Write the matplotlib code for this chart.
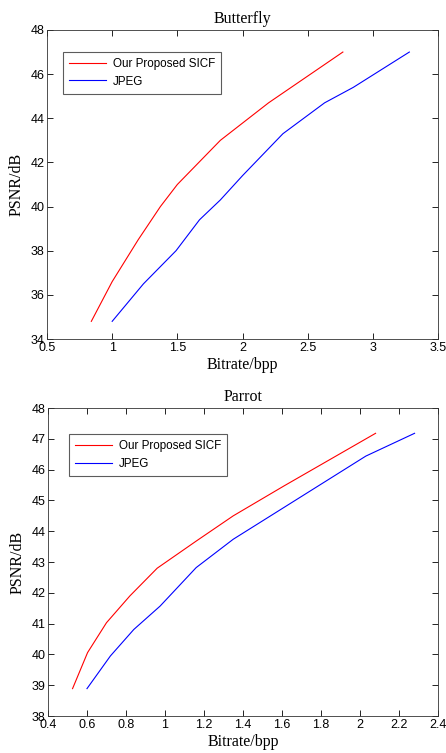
import matplotlib
matplotlib.use("Agg")
import matplotlib.pyplot as plt

# Butterfly data
bf_ours_x = [0.84, 1.0, 1.2, 1.37, 1.5, 1.83, 2.2, 2.77]
bf_ours_y = [34.8, 36.6, 38.5, 40.0, 41.0, 43.0, 44.7, 47.0]
bf_jpeg_x = [1.0, 1.24, 1.49, 1.67, 1.83, 2.0, 2.31, 2.63, 2.85, 3.28]
bf_jpeg_y = [34.8, 36.5, 38.0, 39.4, 40.3, 41.4, 43.3, 44.7, 45.4, 47.0]

# Parrot data
pa_ours_x = [0.526, 0.603, 0.70, 0.82, 0.96, 1.16, 1.35, 1.61, 2.08]
pa_ours_y = [38.89, 40.06, 41.03, 41.9, 42.8, 43.68, 44.5, 45.47, 47.18]
pa_jpeg_x = [0.60, 0.72, 0.84, 0.975, 1.16, 1.35, 1.675, 2.03, 2.28]
pa_jpeg_y = [38.89, 39.95, 40.81, 41.57, 42.82, 43.74, 45.03, 46.44, 47.18]

labels = ['Our Proposed SICF', 'JPEG']

serif = 'Liberation Serif'
sans = 'Liberation Sans'

fig = plt.figure(figsize=(4.46, 7.53), dpi=100)
ax1 = fig.add_axes([0.1054, 0.5498, 0.8767, 0.4104])
ax2 = fig.add_axes([0.1076, 0.0491, 0.8744, 0.409])


def style(ax, title, xlim, ylim, xticks, yticks):
    ax.set_xlim(*xlim)
    ax.set_ylim(*ylim)
    ax.set_xticks(xticks)
    ax.set_yticks(yticks)
    ax.set_xticklabels([('%g' % t) for t in xticks], fontfamily=sans, fontsize=9)
    ax.set_yticklabels([('%g' % t) for t in yticks], fontfamily=sans, fontsize=9)
    ax.tick_params(direction='in', top=True, right=True, length=4, width=0.6, pad=2)
    for s in ax.spines.values():
        s.set_linewidth(0.6)
        s.set_color('#333333')
    ax.set_title(title, fontfamily=serif, fontsize=11.5, pad=5)
    ax.set_xlabel('Bitrate/bpp', fontfamily=serif, fontsize=11.5, labelpad=2)
    ax.set_ylabel('PSNR/dB', fontfamily=serif, fontsize=11.5, labelpad=4)


ax1.plot(bf_ours_x, bf_ours_y, color='red', lw=0.8, label=labels[0])
ax1.plot(bf_jpeg_x, bf_jpeg_y, color='blue', lw=0.8, label=labels[1])
style(ax1, 'Butterfly', (0.5, 3.5), (34, 48),
      [0.5, 1, 1.5, 2, 2.5, 3, 3.5], [34, 36, 38, 40, 42, 44, 46, 48])

ax2.plot(pa_ours_x, pa_ours_y, color='red', lw=0.8, label=labels[0])
ax2.plot(pa_jpeg_x, pa_jpeg_y, color='blue', lw=0.8, label=labels[1])
style(ax2, 'Parrot', (0.4, 2.4), (38, 48),
      [0.4, 0.6, 0.8, 1, 1.2, 1.4, 1.6, 1.8, 2, 2.2, 2.4], list(range(38, 49)))

for ax, anchor in [(ax1, (0.041, 0.929)), (ax2, (0.054, 0.916))]:
    leg = ax.legend(loc='upper left', bbox_to_anchor=anchor, fancybox=False,
                    prop={'family': sans, 'size': 8.4}, handlelength=3.1,
                    borderpad=0.55, labelspacing=0.45, handletextpad=0.6,
                    borderaxespad=0)
    leg.get_frame().set_edgecolor('#333333')
    leg.get_frame().set_linewidth(0.8)

fig.savefig('out.png', dpi=100)
